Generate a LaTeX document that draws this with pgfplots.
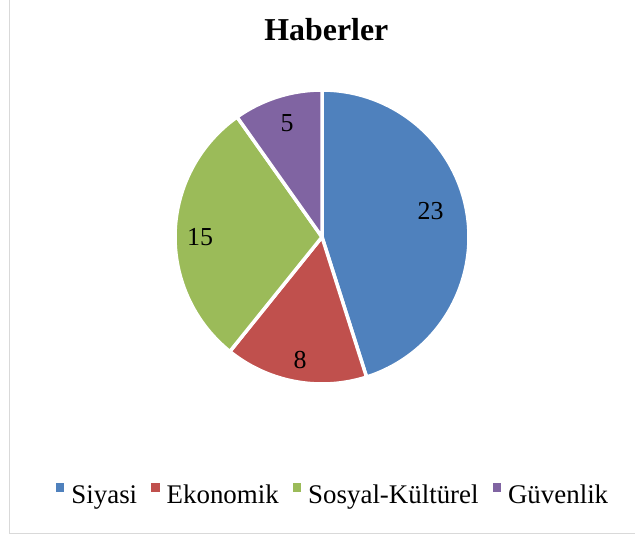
\documentclass[border=0pt]{standalone}
\usepackage{pgfplots}
\pgfplotsset{compat=1.18}
\usepackage{pgfplotstable}
\usepackage{fontspec}
\setmainfont{Liberation Serif}
\definecolor{cSiy}{HTML}{4F81BD}
\definecolor{cEko}{HTML}{C0504D}
\definecolor{cSos}{HTML}{9BBB59}
\definecolor{cGuv}{HTML}{8064A2}
\definecolor{frame}{HTML}{D9D9D9}
\pgfplotstableread{
value
23
8
15
5
}\piedata
\begin{document}
\begin{tikzpicture}
\pgfplotstablegetelem{0}{value}\of\piedata \let\vA\pgfplotsretval
\pgfplotstablegetelem{1}{value}\of\piedata \let\vB\pgfplotsretval
\pgfplotstablegetelem{2}{value}\of\piedata \let\vC\pgfplotsretval
\pgfplotstablegetelem{3}{value}\of\piedata \let\vD\pgfplotsretval
\pgfmathsetmacro\tot{\vA+\vB+\vC+\vD}
\pgfmathsetmacro\aA{90}
\pgfmathsetmacro\aB{\aA-360*\vA/\tot}
\pgfmathsetmacro\aC{\aB-360*\vB/\tot}
\pgfmathsetmacro\aD{\aC-360*\vC/\tot}
\pgfmathsetmacro\aE{\aD-360*\vD/\tot}
\def\R{147}
\begin{axis}[name=a,
  width=635bp, height=537bp, scale only axis,
  xmin=0, xmax=635, ymin=0, ymax=537,
  hide axis,
  title={Haberler},
  title style={at={(0.514,0.9125)}, anchor=base, font=\fontsize{32}{38}\selectfont\bfseries, inner sep=0pt},
  legend columns=4,
  legend style={at={(0.5245,0.078)}, anchor=center, draw=none, fill=none,
    font=\fontsize{27}{31}\selectfont, inner sep=0pt,
    /tikz/every odd column/.append style={column sep=5bp},
    /tikz/every even column/.append style={column sep=12bp}},
  legend image code/.code={\fill[#1, draw=none] (0bp,3.3bp) rectangle (8.5bp,11.8bp);},
]
\addplot[forget plot, draw=frame, line width=1.5bp] coordinates {(9.5,545) (9.5,3.5) (645,3.5)};
\addplot[fill=cSiy, draw=white, line width=3.5bp, domain=\aB:\aA, samples=90, variable=\t]
  ({322+\R*cos(\t)},{300+\R*sin(\t)}) -- (axis cs:322,300) -- cycle;
\addlegendentry{Siyasi}
\addplot[fill=cEko, draw=white, line width=3.5bp, domain=\aC:\aB, samples=40, variable=\t]
  ({322+\R*cos(\t)},{300+\R*sin(\t)}) -- (axis cs:322,300) -- cycle;
\addlegendentry{Ekonomik}
\addplot[fill=cSos, draw=white, line width=3.5bp, domain=\aD:\aC, samples=60, variable=\t]
  ({322+\R*cos(\t)},{300+\R*sin(\t)}) -- (axis cs:322,300) -- cycle;
\addlegendentry{Sosyal-Kültürel}
\addplot[fill=cGuv, draw=white, line width=3.5bp, domain=\aE:\aD, samples=30, variable=\t]
  ({322+\R*cos(\t)},{300+\R*sin(\t)}) -- (axis cs:322,300) -- cycle;
\addlegendentry{Güvenlik}
\node[font=\fontsize{26}{30}\selectfont, inner sep=0pt] at (axis cs:430.5,326) {\vA};
\node[font=\fontsize{26}{30}\selectfont, inner sep=0pt] at (axis cs:300,177) {\vB};
\node[font=\fontsize{26}{30}\selectfont, inner sep=0pt] at (axis cs:200,300) {\vC};
\node[font=\fontsize{26}{30}\selectfont, inner sep=0pt] at (axis cs:287,414) {\vD};
\end{axis}
\pgfresetboundingbox
\path (a.south west) rectangle (a.north east);
\end{tikzpicture}
\end{document}
